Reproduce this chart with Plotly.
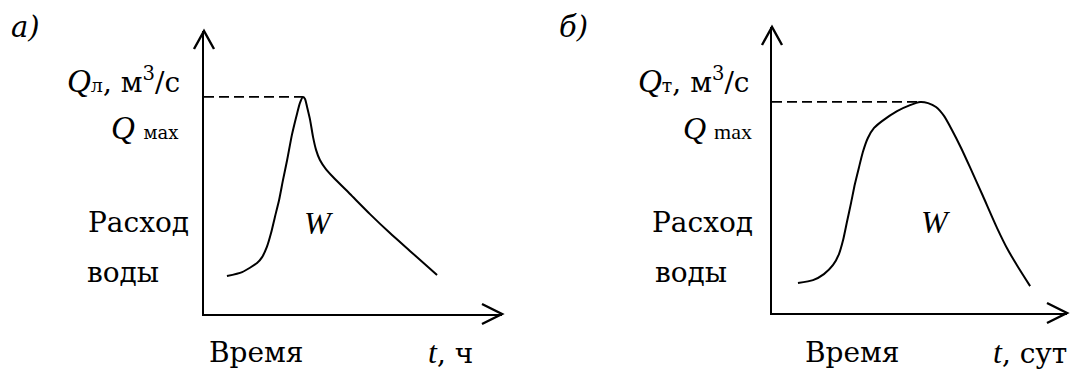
import plotly.graph_objects as go

W_PX, H_PX = 1073, 369

# Flood hydrograph (a): rain flood, time in hours (relative units)
t_rain = [0.77, 1.28, 1.78, 1.95, 2.11, 2.25, 2.38, 2.52, 2.65, 2.79, 2.95, 3.12,
          3.22, 3.32, 3.39, 3.46, 3.56, 3.66, 3.76, 3.89, 4.09, 4.33, 4.90, 5.57,
          6.24, 6.91, 7.82]
q_rain = [1.34, 1.48, 1.80, 2.01, 2.37, 2.86, 3.43, 4.03, 4.73, 5.44, 6.33, 7.07,
          7.46, 7.67, 7.60, 7.31, 6.86, 6.25, 5.80, 5.44, 5.12, 4.84, 4.24, 3.53,
          2.86, 2.23, 1.38]

# Flood hydrograph (b): snowmelt flood, time in days (relative units)
t_snow = [0.88, 1.39, 1.76, 2.07, 2.27, 2.41, 2.54, 2.68, 2.81, 2.95, 3.08, 3.25,
          3.46, 3.73, 4.24, 4.68, 5.02, 5.29, 5.56, 5.83, 6.10, 6.41, 6.71, 7.15,
          7.63, 8.00, 8.34, 8.75]
q_snow = [1.05, 1.15, 1.36, 1.68, 2.06, 2.55, 3.18, 3.85, 4.51, 5.10, 5.63, 6.12,
          6.47, 6.71, 7.06, 7.27, 7.38, 7.34, 7.20, 6.89, 6.40, 5.77, 5.10, 4.09,
          2.97, 2.20, 1.61, 0.94]

LAT = "Liberation Serif"   # Latin symbols (Q, W, t, max)
CYR = "DejaVu Serif"       # Cyrillic words
INK = "black"


def fx(px):
    return px / W_PX


def fy(py):
    return 1 - py / H_PX


def lat(s, size, italic=False):
    style = f"font-family:{LAT};font-size:{size}px"
    if italic:
        style += ";font-style:italic"
    return f"<span style='{style}'>{s}</span>"


fig = go.Figure()

panels = [
    dict(t=t_rain, q=q_rain, xa="x", ya="y",
         xdom=[fx(204), fx(502)], ydom=[fy(314), fy(31)]),
    dict(t=t_snow, q=q_snow, xa="x2", ya="y2",
         xdom=[fx(772), fx(1067)], ydom=[fy(313), fy(27)]),
]

for p in panels:
    fig.add_trace(go.Scatter(
        x=p["t"], y=p["q"], mode="lines", xaxis=p["xa"], yaxis=p["ya"],
        line=dict(color=INK, width=2, shape="spline", smoothing=0.6),
        hoverinfo="skip", showlegend=False))
    # dashed guide from the y-axis to the peak discharge
    q_max = max(p["q"])
    t_peak = p["t"][p["q"].index(q_max)]
    fig.add_trace(go.Scatter(
        x=[0, t_peak], y=[q_max, q_max], mode="lines", xaxis=p["xa"], yaxis=p["ya"],
        line=dict(color=INK, width=1.8, dash="10px,5px"),
        hoverinfo="skip", showlegend=False))

axis_common = dict(range=[0, 10], showline=True, linecolor=INK, linewidth=2.4,
                   showgrid=False, zeroline=False, showticklabels=False, ticks="",
                   fixedrange=True)

fig.update_layout(
    width=W_PX, height=H_PX, margin=dict(l=0, r=0, t=0, b=0),
    paper_bgcolor="white", plot_bgcolor="white",
    xaxis=dict(domain=panels[0]["xdom"], anchor="y", **axis_common),
    yaxis=dict(domain=panels[0]["ydom"], anchor="x", **axis_common),
    xaxis2=dict(domain=panels[1]["xdom"], anchor="y2", **axis_common),
    yaxis2=dict(domain=panels[1]["ydom"], anchor="x2", **axis_common),
)

# open arrowheads at the ends of both axes
for xa, ya in [("x", "y"), ("x2", "y2")]:
    fig.add_shape(type="path", xref=f"{xa} domain", yref=f"{ya} domain",
                  xsizemode="pixel", ysizemode="pixel", xanchor=0, yanchor=1,
                  path="M-10,-18 L0,0 L10,-18",
                  line=dict(color=INK, width=2.4))
    fig.add_shape(type="path", xref=f"{xa} domain", yref=f"{ya} domain",
                  xsizemode="pixel", ysizemode="pixel", xanchor=1, yanchor=0,
                  path="M-20,10 L0,0 L-20,-10",
                  line=dict(color=INK, width=2.4))

labels = [
    ("<i>а)</i>", 25, 27, 29, CYR),
    (lat("Q", 33, True) + "<span style='font-size:19px'>л</span>, м<sup>3</sup>/с",
     123, 80, 28, CYR),
    (lat("Q", 33, True) + " <span style='font-size:18px'>мах</span>", 144, 128, 27, CYR),
    ("Расход", 138, 223, 28, CYR),
    ("воды", 123, 272, 28, CYR),
    ("<i>W</i>", 319, 223, 32, LAT),
    ("Время", 256, 352, 28, CYR),
    (lat("t", 32, True) + ", ч", 450, 352, 28, CYR),
    ("<i>б)</i>", 573, 27, 29, CYR),
    (lat("Q", 33, True) + "<span style='font-size:19px'>т</span>, м<sup>3</sup>/с",
     694, 80, 28, CYR),
    ("<i>Q</i> <span style='font-size:22px'>max</span>", 717, 128, 32, LAT),
    ("Расход", 702, 223, 28, CYR),
    ("воды", 691, 272, 28, CYR),
    ("<i>W</i>", 936, 222, 32, LAT),
    ("Время", 852, 352, 28, CYR),
    (lat("t", 32, True) + ", сут", 1030, 352, 28, CYR),
]
for text, px, py, size, fam in labels:
    fig.add_annotation(text=text, xref="paper", yref="paper", x=fx(px), y=fy(py),
                       xanchor="center", yanchor="middle", showarrow=False,
                       font=dict(family=fam, size=size, color=INK))

fig.write_html("out.html")
